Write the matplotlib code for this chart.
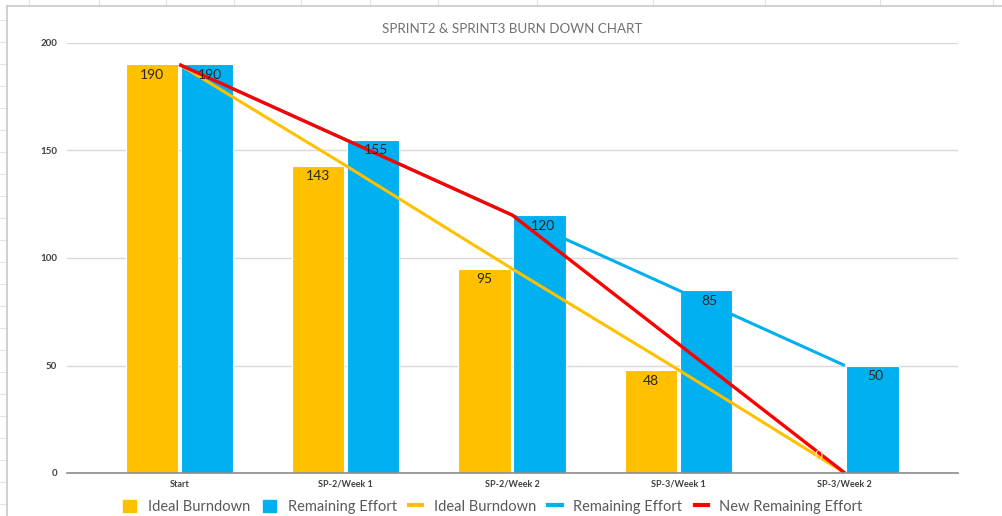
import matplotlib
matplotlib.use("Agg")
import matplotlib.pyplot as plt
from matplotlib.lines import Line2D
from matplotlib.patches import Patch
import numpy as np

categories = ["Start", "SP-2/Week 1", "SP-2/Week 2", "SP-3/Week 1", "SP-3/Week 2"]
ideal_bars = [190, 143, 95, 48, 0]
remaining_bars = [190, 155, 120, 85, 50]
ideal_line = [190, 143, 95, 48, 0]
remaining_line = [190, 155, 120, 85, 50]
new_remaining_line = [190, 155, 120, 60, 0]
yticks = [0, 50, 100, 150, 200]
title = "SPRINT2 & SPRINT3 BURN DOWN CHART"

YEL = "#FFC000"
BLU = "#00B0F0"
RED = "#FF0000"

plt.rcParams["font.family"] = ["Lato", "DejaVu Sans"]

W, H = 1003, 516
fig = plt.figure(figsize=(W / 100, H / 100), dpi=100)
fig.patch.set_facecolor("white")

# spreadsheet backdrop: faint cell lines outside the chart frame
cell_x = [29, 99, 166, 234, 301, 370, 438, 537, 653, 765, 880, 993]
for cx in cell_x:
    fig.add_artist(Line2D([cx / W, cx / W], [1, 1 - 6 / H], color="#E3E3E3", lw=0.8))
for cy in range(20, H, 22):
    fig.add_artist(Line2D([0, 6 / W], [1 - cy / H, 1 - cy / H], color="#E3E3E3", lw=0.8))
# chart frame
fig.add_artist(Line2D([7 / W, 7 / W], [0, 1 - 6 / H], color="#C8C8C8", lw=1.2))
fig.add_artist(Line2D([7 / W, 1], [1 - 6 / H, 1 - 6 / H], color="#C8C8C8", lw=1.2))

ax = fig.add_axes([67 / W, 1 - 473 / H, (958 - 67) / W, (473 - 43) / H])
x = np.arange(len(categories))
bw = 0.315
off = 0.165

ax.bar(x - off, ideal_bars, width=bw, color=YEL, edgecolor="white", linewidth=0.8, zorder=2)
ax.bar(x + off, remaining_bars, width=bw, color=BLU, edgecolor="white", linewidth=0.8, zorder=2)

ax.plot(x, ideal_line, color=YEL, lw=2.2, zorder=3, solid_capstyle="butt")
ax.plot(x, remaining_line, color=BLU, lw=2.2, zorder=3, solid_capstyle="butt")
ax.plot(x, new_remaining_line, color=RED, lw=2.4, zorder=4, solid_capstyle="butt")

for xi, v in zip(x, ideal_bars):
    if v > 0:
        ax.text(xi - off, v - 5, str(v), ha="center", va="center", fontsize=10,
                color="#262626", zorder=5)
    else:
        ax.text(xi - 0.16, 8, str(v), ha="center", va="center", fontsize=10,
                color="#FFE9A8", zorder=5)
for xi, v in zip(x, remaining_bars):
    ax.text(xi + off + 0.02, v - 5, str(v), ha="center", va="center", fontsize=10,
            color="#262626", zorder=5)

ax.set_xlim(-0.675, len(categories) - 1 + 0.68)
ax.set_ylim(0, 200)
ax.set_yticks(yticks)
ax.set_yticklabels([str(t) for t in yticks], fontsize=7, fontweight="bold", color="#404040")
ax.set_xticks(x)
ax.set_xticklabels(categories, fontsize=6.5, fontweight="bold", color="#404040")
ax.tick_params(axis="both", length=0, pad=7)
ax.tick_params(axis="x", pad=5)
ax.grid(axis="y", color="#D9D9D9", lw=1.0, zorder=0)
ax.set_axisbelow(True)
for s in ["top", "right", "left"]:
    ax.spines[s].set_visible(False)
ax.spines["bottom"].set_color("#8C8C8C")
ax.spines["bottom"].set_linewidth(1.2)
ax.spines["bottom"].set_zorder(6)

fig.text(512 / W, 1 - 29 / H, title, ha="center", va="center", fontsize=9.6,
         color="#707070")

handles = [
    Patch(facecolor=YEL, edgecolor=YEL),
    Patch(facecolor=BLU, edgecolor=BLU),
    Line2D([], [], color=YEL, lw=3),
    Line2D([], [], color=BLU, lw=3),
    Line2D([], [], color=RED, lw=3),
]
labels = ["Ideal Burndown", "Remaining Effort", "Ideal Burndown", "Remaining Effort",
          "New Remaining Effort"]
fig.legend(handles, labels, loc="center", bbox_to_anchor=(493 / W, 1 - 507 / H), ncol=5,
           frameon=False, fontsize=10.5, labelcolor="#595959", handlelength=0.9,
           handleheight=0.9, handletextpad=0.8, columnspacing=0.85)

fig.savefig("out.png", dpi=100, facecolor="white")
